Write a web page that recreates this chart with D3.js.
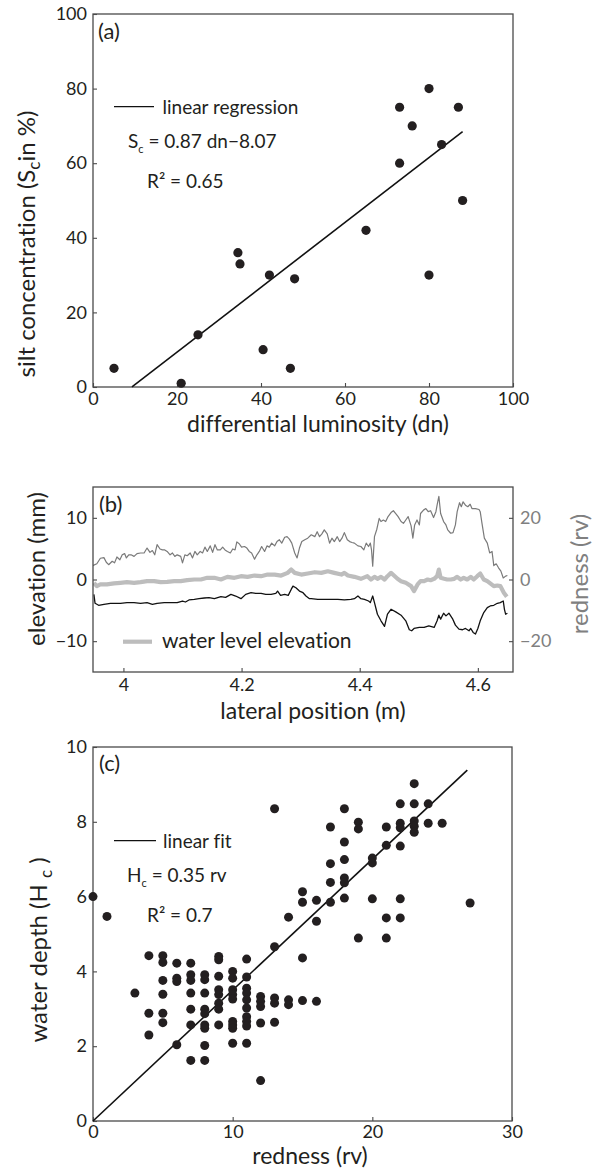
<!DOCTYPE html>
<html>
<head>
<meta charset="utf-8">
<script src="https://cdn.jsdelivr.net/npm/d3@7"></script>
<style>
  body { margin: 0; background: #fff; }
  svg text { font-family: Lato, "Open Sans", sans-serif; fill: #231f20; font-variant-ligatures: none; }
</style>
</head>
<body>
<svg id="fig" width="599" height="1171"></svg>
<script>
// ---------- (a) silt concentration vs differential luminosity ----------
const lumDn   = [5, 21, 25, 34.5, 35, 40.5, 42, 47, 48, 65, 73, 73, 76, 80, 80, 83, 87, 88];
const siltPct = [5, 1, 14, 36, 33, 10, 30, 5, 29, 42, 75, 60, 70, 80, 30, 65, 75, 50];
const fitA = { slope: 0.87, intercept: -8.07, xStart: 9.28, xEnd: 88 };
const ticksA = [0, 20, 40, 60, 80, 100];

// ---------- (b) cross-section profiles ----------
const posRed = [3.948,3.955,3.961,3.967,3.971,3.975,3.981,3.985,3.989,3.994,3.998,4.002,4.005,4.009,4.013,4.018,4.023,4.029,4.035,4.040,4.045,4.049,4.053,4.057,4.062,4.066,4.070,4.074,4.079,4.083,4.087,4.091,4.097,4.100,4.104,4.108,4.113,4.117,4.121,4.125,4.130,4.134,4.138,4.142,4.147,4.151,4.155,4.159,4.164,4.168,4.172,4.176,4.181,4.185,4.189,4.192,4.196,4.200,4.205,4.209,4.213,4.217,4.222,4.226,4.230,4.234,4.239,4.243,4.247,4.251,4.256,4.260,4.264,4.268,4.273,4.277,4.281,4.285,4.290,4.294,4.298,4.302,4.307,4.312,4.318,4.324,4.328,4.332,4.336,4.340,4.345,4.349,4.353,4.357,4.362,4.366,4.370,4.374,4.379,4.383,4.387,4.391,4.397,4.402,4.407,4.411,4.415,4.418,4.420,4.422,4.425,4.429,4.433,4.436,4.440,4.444,4.448,4.453,4.457,4.461,4.465,4.470,4.474,4.478,4.482,4.487,4.490,4.493,4.497,4.501,4.503,4.508,4.512,4.516,4.520,4.525,4.529,4.531,4.534,4.537,4.542,4.546,4.549,4.554,4.558,4.562,4.565,4.569,4.572,4.575,4.579,4.583,4.587,4.590,4.596,4.602,4.604,4.607,4.611,4.616,4.620,4.624,4.627,4.631,4.635,4.639,4.643,4.647,4.650];
const redness = [4.5,5.1,6.9,7.1,5.6,4.8,5.9,5.4,7.3,6.4,8.0,8.4,7.0,8.0,8.0,7.5,8.4,8.6,8.6,10.2,8.8,9.4,8.0,11.3,9.9,9.6,9.6,9.1,8.0,8.6,7.5,8.0,7.5,5.4,8.0,7.7,8.6,7.0,9.1,8.0,9.1,8.6,10.5,9.1,10.9,8.8,11.3,9.6,9.6,10.5,9.6,9.1,8.6,9.9,9.6,12.2,11.6,10.5,10.7,10.2,9.1,8.6,6.6,8.0,9.1,10.7,9.1,10.9,10.5,11.8,10.9,12.3,12.9,11.8,13.7,13.9,13.1,11.8,8.6,7.0,10.2,12.3,12.9,13.4,14.5,13.9,15.5,13.9,14.8,16.1,14.8,11.8,13.4,12.3,13.9,12.3,13.4,15.2,12.9,12.3,12.0,11.8,10.9,10.7,9.6,11.8,10.7,11.8,9.6,4.3,13.9,16.3,19.8,18.8,19.3,18.8,20.4,21.7,22.3,21.4,20.4,18.8,18.2,19.3,20.4,17.4,13.4,17.7,19.3,17.7,21.4,22.5,23.0,22.0,22.3,20.1,22.0,24.1,27.0,21.4,18.8,17.7,16.1,15.0,15.2,17.7,22.0,24.9,23.6,25.2,24.1,23.6,24.4,23.0,23.0,22.7,22.0,18.2,13.4,11.8,8.6,9.1,4.5,5.1,3.8,2.7,0.5,1.1,1.3];

const posWater = [3.950,3.955,3.961,3.972,3.984,3.995,4.006,4.018,4.029,4.040,4.052,4.063,4.074,4.086,4.097,4.108,4.120,4.131,4.142,4.154,4.165,4.176,4.188,4.199,4.210,4.222,4.233,4.244,4.256,4.267,4.278,4.284,4.290,4.301,4.312,4.324,4.335,4.346,4.357,4.369,4.374,4.380,4.391,4.402,4.413,4.419,4.425,4.430,4.436,4.442,4.447,4.453,4.458,4.464,4.470,4.478,4.487,4.492,4.498,4.503,4.509,4.515,4.520,4.526,4.531,4.534,4.537,4.543,4.548,4.554,4.560,4.565,4.571,4.576,4.582,4.588,4.593,4.599,4.604,4.610,4.616,4.621,4.627,4.633,4.638,4.644,4.649];
const waterLevel = [-0.54,-1.07,-0.80,-0.80,-0.64,-0.54,-0.43,-0.54,-0.43,-0.27,-0.27,-0.43,-0.38,-0.27,-0.27,-0.11,0,0,0.27,0.27,0,0.43,0.27,0.54,0.43,0.64,0.54,0.80,0.80,0.64,1.07,1.61,1.07,0.80,0.97,1.18,1.07,1.34,1.07,0.80,1.07,0.64,0.43,0.11,0.54,0,0.43,0.11,0.43,0,0.54,1.07,0.64,0.11,-0.27,-0.54,-1.07,-1.88,-0.80,-0.27,-0.27,0,-0.11,0.11,0.54,1.61,0.27,0.11,0,0,0.11,0.43,0,0.27,0,0.43,0,0.54,0.97,0,-0.27,-0.64,-1.07,-0.97,-1.07,-2.14,-2.79];

const posBed = [3.950,3.952,3.958,3.967,3.978,3.995,4.006,4.018,4.029,4.040,4.049,4.057,4.069,4.080,4.091,4.100,4.105,4.111,4.120,4.128,4.137,4.145,4.154,4.165,4.173,4.182,4.190,4.199,4.207,4.216,4.224,4.233,4.241,4.250,4.258,4.261,4.266,4.273,4.279,4.284,4.287,4.292,4.298,4.304,4.309,4.315,4.318,4.329,4.340,4.352,4.363,4.374,4.385,4.391,4.397,4.402,4.408,4.415,4.418,4.422,4.425,4.430,4.436,4.442,4.447,4.453,4.461,4.470,4.478,4.484,4.488,4.492,4.501,4.509,4.517,4.526,4.531,4.534,4.537,4.542,4.546,4.551,4.557,4.562,4.568,4.574,4.579,4.585,4.588,4.592,4.596,4.600,4.604,4.610,4.616,4.621,4.627,4.633,4.638,4.643,4.645,4.647,4.650];
const bedElev = [-2.41,-3.86,-4.18,-4.02,-3.86,-3.86,-3.75,-3.75,-3.86,-3.75,-4.02,-3.86,-3.75,-3.75,-3.75,-3.49,-3.65,-3.32,-3.22,-3.11,-3.00,-2.95,-3.11,-2.79,-2.90,-2.41,-2.68,-3.11,-2.41,-2.14,-2.25,-2.25,-2.41,-2.41,-2.25,-1.88,-2.57,-2.41,-2.57,-1.61,-1.07,-1.34,-1.88,-2.14,-2.68,-3.11,-3.11,-3.22,-3.22,-3.22,-3.22,-3.32,-3.22,-3.11,-2.68,-3.11,-3.22,-3.49,-3.75,-2.68,-3.75,-5.63,-6.70,-7.61,-5.63,-4.83,-5.25,-5.79,-6.70,-8.15,-8.31,-7.94,-7.77,-7.77,-7.51,-7.77,-6.70,-5.79,-6.43,-5.47,-5.90,-5.47,-6.33,-7.40,-8.04,-8.15,-7.94,-8.31,-7.94,-8.58,-8.85,-7.94,-6.70,-5.36,-4.56,-4.29,-4.18,-3.86,-3.75,-3.49,-4.83,-5.63,-5.47];

const ticksBx = [4, 4.2, 4.4, 4.6];
const ticksElev = [-10, 0, 10];
const ticksRed = [-20, 0, 20];

// ---------- (c) water depth vs redness ----------
const rednessRv = [0,1,3,4,4,4,5,5,5,5,5,5,6,6,6,6,7,7,7,7,7,7,7,8,8,8,8,8,8,8,8,8,9,9,9,9,9,9,9,9,10,10,10,10,10,10,10,10,10,11,11,11,11,11,11,11,11,11,11,12,12,12,12,12,13,13,13,13,13,14,14,14,15,15,15,15,16,16,16,17,17,17,17,18,18,18,18,18,18,19,19,19,20,20,20,21,21,21,21,22,22,22,22,22,22,23,23,23,23,23,24,24,25,27];
const depthHc = [6.0,5.47,3.42,4.42,2.88,2.30,4.42,4.24,3.76,3.39,2.88,2.63,4.22,3.82,3.73,2.04,4.22,3.91,3.76,3.42,2.99,2.57,1.62,3.91,3.78,3.42,2.99,2.87,2.57,2.48,2.02,1.62,4.40,4.31,3.87,3.51,3.38,3.15,2.99,2.57,4.00,3.82,3.51,3.38,3.26,2.66,2.57,2.48,2.08,4.33,3.85,3.55,3.42,3.24,3.02,2.79,2.66,2.54,2.08,3.33,3.20,3.06,2.62,1.08,8.35,4.66,3.29,3.15,2.64,5.45,3.24,3.11,6.13,5.85,4.36,3.22,5.90,5.34,3.20,7.86,6.88,6.38,5.85,8.35,7.46,6.99,6.50,6.37,5.96,7.99,7.81,4.89,7.03,6.90,5.94,7.86,7.37,5.43,4.89,8.48,7.96,7.84,7.35,5.94,5.43,9.02,8.48,8.02,7.88,7.72,8.48,7.96,7.96,5.83];
const fitC = { slope: 0.35, intercept: 0, xStart: 0, xEnd: 26.8 };
const ticksCx = [0, 10, 20, 30];
const ticksCy = [0, 2, 4, 6, 8, 10];

// ---------- drawing ----------
const INK = "#231f20", AXIS = "#4a4a4a", GREY = "#808080";
const svg = d3.select("#fig");
svg.append("rect").attr("width", 599).attr("height", 1171).attr("fill", "#fff");

function styleAxis(g, size, color) {
  g.select(".domain").remove();
  g.selectAll(".tick line").attr("stroke", AXIS).attr("stroke-width", 1.1);
  g.selectAll(".tick text").attr("font-size", size)
    .attr("font-family", "Lato, 'Open Sans', sans-serif")
    .style("fill", color || INK);
}
function frame(box) {
  svg.append("rect").attr("x", box.l).attr("y", box.t)
    .attr("width", box.r - box.l).attr("height", box.b - box.t)
    .attr("fill", "none").attr("stroke", AXIS).attr("stroke-width", 1.3);
}
function fmtMinus(d) { return d < 0 ? "\u2212" + Math.abs(d) : String(d); }

// ----- panel (a)
const A = { l: 93, t: 14, r: 513, b: 387 };
const xa = d3.scaleLinear().domain([0, 100]).range([A.l, A.r]);
const ya = d3.scaleLinear().domain([0, 100]).range([A.b, A.t]);

svg.append("g").attr("transform", `translate(0,${A.b})`)
  .call(d3.axisBottom(xa).tickValues(ticksA).tickSize(-4).tickSizeOuter(0).tickPadding(5.2))
  .call(g => styleAxis(g, 18));
svg.append("g").attr("transform", `translate(${A.l},0)`)
  .call(d3.axisLeft(ya).tickValues(ticksA).tickSize(-4).tickSizeOuter(0).tickPadding(6))
  .call(g => styleAxis(g, 18));
frame(A);

svg.append("line")
  .attr("x1", xa(fitA.xStart)).attr("y1", ya(fitA.slope * fitA.xStart + fitA.intercept))
  .attr("x2", xa(fitA.xEnd)).attr("y2", ya(fitA.slope * fitA.xEnd + fitA.intercept))
  .attr("stroke", "#111").attr("stroke-width", 1.6);

svg.append("g").selectAll("circle").data(d3.zip(lumDn, siltPct)).join("circle")
  .attr("cx", d => xa(d[0])).attr("cy", d => ya(d[1])).attr("r", 4.6).attr("fill", INK);

svg.append("text").attr("x", 98).attr("y", 39).attr("font-size", 22).text("(a)");
svg.append("line").attr("x1", 114).attr("x2", 154).attr("y1", 106.7).attr("y2", 106.7)
  .attr("stroke", "#111").attr("stroke-width", 1.3);
svg.append("text").attr("x", 162.5).attr("y", 114).attr("font-size", 19).text("linear regression");
const eqA = svg.append("text").attr("x", 128).attr("y", 148).attr("font-size", 19);
eqA.append("tspan").text("S");
eqA.append("tspan").attr("font-size", 11).attr("dy", 5).text("c");
eqA.append("tspan").attr("dy", -5).text(" = 0.87 dn\u22128.07");
svg.append("text").attr("x", 147).attr("y", 188).attr("font-size", 19).text("R\u00b2 = 0.65");

svg.append("text").attr("x", 318).attr("y", 432).attr("font-size", 23)
  .attr("text-anchor", "middle").text("differential luminosity (dn)");
const ylA = svg.append("text").attr("transform", "translate(35,244) rotate(-90)")
  .attr("font-size", 24).attr("text-anchor", "middle");
ylA.append("tspan").text("silt concentration (S");
ylA.append("tspan").attr("font-size", 17).attr("dy", 5).text("c");
ylA.append("tspan").attr("dy", -5).text("in %)");

// ----- panel (b)
const B = { l: 93, t: 487, r: 513, b: 672 };
const xb = d3.scaleLinear().domain([3.9485, 4.6595]).range([B.l, B.r]);
const yElev = d3.scaleLinear().domain([-15, 15]).range([B.b, B.t]);
const yRed = d3.scaleLinear().domain([-30, 30]).range([B.b, B.t]);

svg.append("g").attr("transform", `translate(0,${B.b})`)
  .call(d3.axisBottom(xb).tickValues(ticksBx).tickSize(-4).tickSizeOuter(0).tickPadding(6.2)
    .tickFormat(d3.format("")))
  .call(g => styleAxis(g, 18));
svg.append("g").attr("transform", `translate(${B.l},0)`)
  .call(d3.axisLeft(yElev).tickValues(ticksElev).tickSize(-4).tickSizeOuter(0).tickPadding(6)
    .tickFormat(fmtMinus))
  .call(g => styleAxis(g, 18));
svg.append("g").attr("transform", `translate(${B.r},0)`)
  .call(d3.axisRight(yRed).tickValues(ticksRed).tickSize(-4).tickSizeOuter(0).tickPadding(7)
    .tickFormat(fmtMinus))
  .call(g => styleAxis(g, 18, GREY));

svg.append("defs").append("clipPath").attr("id", "clipB")
  .append("rect").attr("x", B.l).attr("y", B.t).attr("width", B.r - B.l).attr("height", B.b - B.t);
const gB = svg.append("g").attr("clip-path", "url(#clipB)");

gB.append("path").datum(d3.zip(posRed, redness))
  .attr("d", d3.line().x(d => xb(d[0])).y(d => yRed(d[1])))
  .attr("fill", "none").attr("stroke", "#7a7a7a").attr("stroke-width", 1.2).attr("stroke-linejoin", "round");
gB.append("path").datum(d3.zip(posBed, bedElev))
  .attr("d", d3.line().x(d => xb(d[0])).y(d => yElev(d[1])))
  .attr("fill", "none").attr("stroke", "#111").attr("stroke-width", 1.3).attr("stroke-linejoin", "round");
gB.append("path").datum(d3.zip(posWater, waterLevel))
  .attr("d", d3.line().x(d => xb(d[0])).y(d => yElev(d[1])))
  .attr("fill", "none").attr("stroke", "#bdbdbd").attr("stroke-width", 4.2).attr("stroke-linejoin", "round");
frame(B);

svg.append("text").attr("x", 99).attr("y", 511.5).attr("font-size", 22).text("(b)");
svg.append("line").attr("x1", 123).attr("x2", 152).attr("y1", 641.7).attr("y2", 641.7)
  .attr("stroke", "#bdbdbd").attr("stroke-width", 4.2);
svg.append("text").attr("x", 162).attr("y", 648).attr("font-size", 21).text("water level elevation");

svg.append("text").attr("x", 313).attr("y", 719).attr("font-size", 23)
  .attr("text-anchor", "middle").text("lateral position (m)");
svg.append("text").attr("transform", "translate(45,569) rotate(-90)")
  .attr("font-size", 24).attr("text-anchor", "middle").text("elevation (mm)");
svg.append("text").attr("transform", "translate(588,574) rotate(-90)")
  .attr("font-size", 24).attr("text-anchor", "middle").style("fill", GREY).text("redness (rv)");

// ----- panel (c)
const C = { l: 93, t: 747, r: 512, b: 1121 };
const xc = d3.scaleLinear().domain([0, 30]).range([C.l, C.r]);
const yc = d3.scaleLinear().domain([0, 10]).range([C.b, C.t]);

svg.append("g").attr("transform", `translate(0,${C.b})`)
  .call(d3.axisBottom(xc).tickValues(ticksCx).tickSize(-4).tickSizeOuter(0).tickPadding(4.2))
  .call(g => styleAxis(g, 18));
svg.append("g").attr("transform", `translate(${C.l},0)`)
  .call(d3.axisLeft(yc).tickValues(ticksCy).tickSize(-4).tickSizeOuter(0).tickPadding(6))
  .call(g => styleAxis(g, 18));
frame(C);

svg.append("line")
  .attr("x1", xc(fitC.xStart)).attr("y1", yc(fitC.slope * fitC.xStart + fitC.intercept))
  .attr("x2", xc(fitC.xEnd)).attr("y2", yc(fitC.slope * fitC.xEnd + fitC.intercept))
  .attr("stroke", "#111").attr("stroke-width", 1.6);

svg.append("g").selectAll("circle").data(d3.zip(rednessRv, depthHc)).join("circle")
  .attr("cx", d => xc(d[0])).attr("cy", d => yc(d[1])).attr("r", 4.5).attr("fill", INK);

svg.append("text").attr("x", 99).attr("y", 771).attr("font-size", 22).text("(c)");
svg.append("line").attr("x1", 114).attr("x2", 156).attr("y1", 840.7).attr("y2", 840.7)
  .attr("stroke", "#111").attr("stroke-width", 1.3);
svg.append("text").attr("x", 163).attr("y", 848).attr("font-size", 19).text("linear fit");
const eqC = svg.append("text").attr("x", 127).attr("y", 881.5).attr("font-size", 19);
eqC.append("tspan").text("H");
eqC.append("tspan").attr("font-size", 11).attr("dy", 5).text("c");
eqC.append("tspan").attr("dy", -5).text(" = 0.35 rv");
svg.append("text").attr("x", 147).attr("y", 922).attr("font-size", 19).text("R\u00b2 = 0.7");

svg.append("text").attr("x", 310).attr("y", 1164).attr("font-size", 23)
  .attr("text-anchor", "middle").text("redness (rv)");
const ylC = svg.append("text").attr("transform", "translate(47,950) rotate(-90)")
  .attr("font-size", 24).attr("text-anchor", "middle");
ylC.append("tspan").text("water depth (H ");
ylC.append("tspan").attr("font-size", 17).attr("dy", 5).text("c");
ylC.append("tspan").attr("dy", -5).text(" )");
</script>
</body>
</html>
